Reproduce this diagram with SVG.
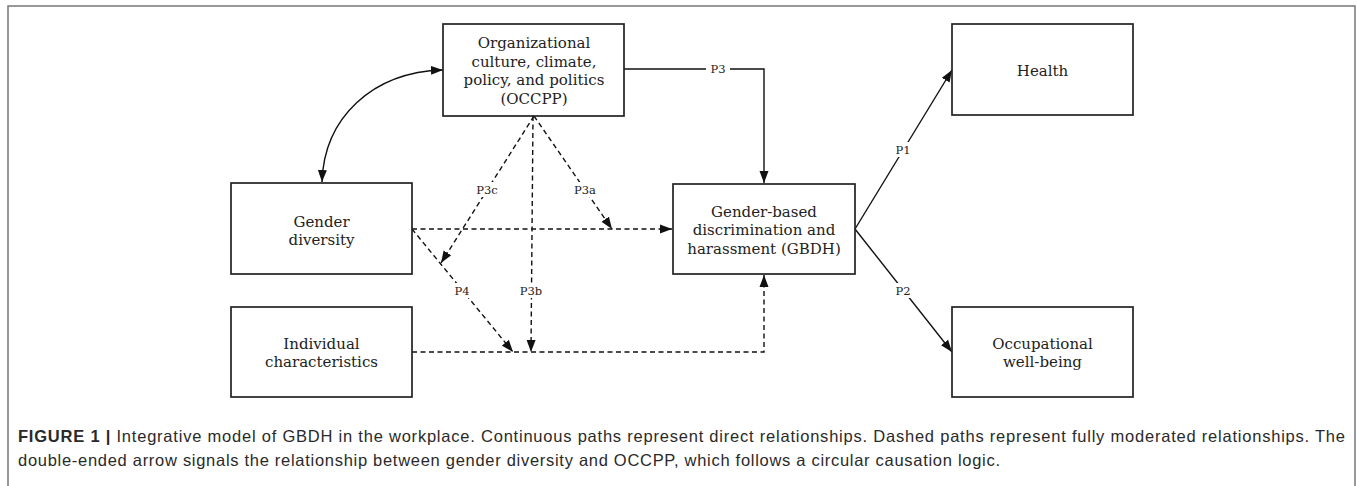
<svg xmlns="http://www.w3.org/2000/svg" width="1357" height="486" viewBox="0 0 1357 486">
<style>
.box{fill:#fff;stroke:#222;stroke-width:1.7}
.nt{font-family:"DejaVu Serif","Liberation Serif",serif;font-size:15px;fill:#222;text-anchor:middle}
.lbl{font-family:"DejaVu Serif","Liberation Serif",serif;font-size:11.5px;fill:#222;text-anchor:middle}
.solid{fill:none;stroke:#111;stroke-width:1.4}
.dash{fill:none;stroke:#111;stroke-width:1.4;stroke-dasharray:5 3.5}
.bg{fill:#fff}
.cap{font-family:"Liberation Sans",Arial,sans-serif;font-size:16.5px;fill:#2a2a2a}
</style>
<defs>
<marker id="ah" markerWidth="12" markerHeight="10" refX="12" refY="5" orient="auto" markerUnits="userSpaceOnUse">
<path d="M0,0.5 L12,5 L0,9.5 Z" fill="#111"/>
</marker>
<marker id="as" markerWidth="12" markerHeight="10" refX="0" refY="5" orient="auto" markerUnits="userSpaceOnUse">
<path d="M12,0.5 L0,5 L12,9.5 Z" fill="#111"/>
</marker>
</defs>
<rect width="1357" height="486" fill="#fff"/>
<path d="M8,486 V6 H1355 V486" fill="none" stroke="#777" stroke-width="1.5"/>

<g id="connectors">
<path class="solid" d="M322,182 C324,118 372,72 443,70" marker-start="url(#as)" marker-end="url(#ah)"/>
<path class="solid" d="M624,69 H764 V183" marker-end="url(#ah)"/>
<path class="solid" d="M855,229 L952,70" marker-end="url(#ah)"/>
<path class="solid" d="M855,229 L952,352" marker-end="url(#ah)"/>
<path class="dash" d="M412,229 H672" marker-end="url(#ah)"/>
<path class="dash" d="M534,116 L612,229" marker-end="url(#ah)"/>
<path class="dash" d="M534,116 L441,263" marker-end="url(#ah)"/>
<path class="dash" d="M533,116 L531,352" marker-end="url(#ah)"/>
<path class="dash" d="M412,229 L513,352" marker-end="url(#ah)"/>
<path class="dash" d="M412,352 H764 V275" marker-end="url(#ah)"/>
<g id="labels">
<rect class="bg" x="706" y="62" width="24" height="13"/><text class="lbl" x="718" y="73">P3</text>
<rect class="bg" x="891" y="142" width="24" height="15"/><text class="lbl" x="903" y="154">P1</text>
<rect class="bg" x="891" y="283" width="24" height="15"/><text class="lbl" x="903" y="295">P2</text>
<rect class="bg" x="572" y="182" width="26" height="15"/><text class="lbl" x="585" y="194">P3a</text>
<rect class="bg" x="474" y="182" width="26" height="15"/><text class="lbl" x="487" y="194">P3c</text>
<rect class="bg" x="518" y="283" width="26" height="15"/><text class="lbl" x="531" y="295">P3b</text>
<rect class="bg" x="451" y="283" width="22" height="15"/><text class="lbl" x="462" y="295">P4</text>
</g>
</g>

<g id="occpp">
<rect class="box" x="443" y="24" width="181" height="92"/>
<text class="nt" x="534" y="48">Organizational</text>
<text class="nt" x="534" y="66.5">culture, climate,</text>
<text class="nt" x="534" y="85">policy, and politics</text>
<text class="nt" x="534" y="103.5">(OCCPP)</text>
</g>
<g id="gender-diversity">
<rect class="box" x="231" y="183" width="181" height="91"/>
<text class="nt" x="321.5" y="226.5">Gender</text>
<text class="nt" x="321.5" y="245">diversity</text>
</g>
<g id="individual">
<rect class="box" x="231" y="307" width="181" height="90"/>
<text class="nt" x="321.5" y="349">Individual</text>
<text class="nt" x="321.5" y="367">characteristics</text>
</g>
<g id="gbdh">
<rect class="box" x="673" y="184" width="182" height="90"/>
<text class="nt" x="764" y="216.5">Gender-based</text>
<text class="nt" x="764" y="235">discrimination and</text>
<text class="nt" x="764" y="253.5">harassment (GBDH)</text>
</g>
<g id="health">
<rect class="box" x="952" y="24" width="181" height="91"/>
<text class="nt" x="1042.5" y="76">Health</text>
</g>
<g id="occupational">
<rect class="box" x="952" y="307" width="181" height="90"/>
<text class="nt" x="1042.5" y="349">Occupational</text>
<text class="nt" x="1042.5" y="367">well-being</text>
</g>

<g id="caption">
<text class="cap" x="18" y="442" textLength="1327" lengthAdjust="spacing"><tspan font-weight="bold">FIGURE 1 |</tspan> Integrative model of GBDH in the workplace. Continuous paths represent direct relationships. Dashed paths represent fully moderated relationships. The</text>
<text class="cap" x="18" y="466" textLength="982" lengthAdjust="spacing">double-ended arrow signals the relationship between gender diversity and OCCPP, which follows a circular causation logic.</text>
</g>
</svg>
